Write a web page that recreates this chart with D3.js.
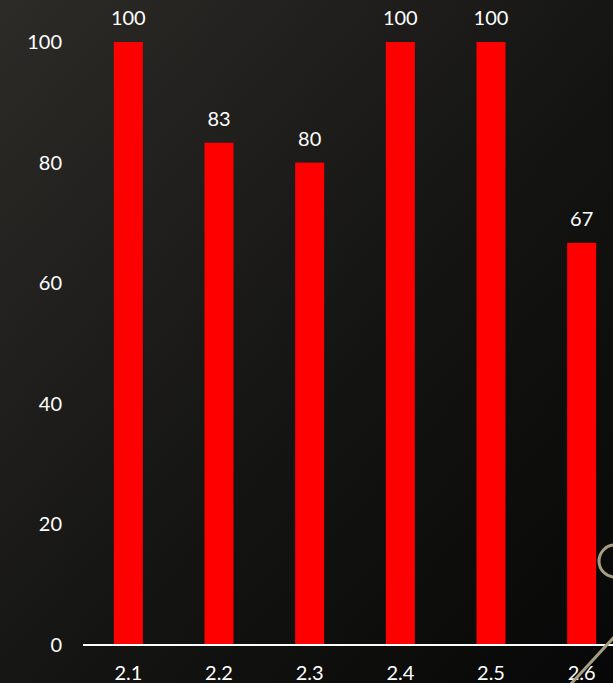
<!DOCTYPE html>
<html>
<head>
<meta charset="utf-8">
<script src="https://cdn.jsdelivr.net/npm/d3@7"></script>
<style>
html,body{margin:0;padding:0;background:#111;}
svg{display:block;}
text{font-family:"Century Gothic","Lato","DejaVu Sans",sans-serif;fill:#ffffff;font-weight:400;}
</style>
</head>
<body>
<svg id="chart" width="613" height="683"></svg>
<script>
const categories = ["2.1","2.2","2.3","2.4","2.5","2.6"];
const values = [100, 83.3, 80, 100, 100, 66.7];
const yTicks = [0, 20, 40, 60, 80, 100];

const W = 613, H = 683;
const FONT = '"Century Gothic","Lato","DejaVu Sans",sans-serif';
const svg = d3.select("#chart");

const defs = svg.append("defs");
const grad = defs.append("linearGradient").attr("id","bg")
  .attr("x1","0%").attr("y1","0%").attr("x2","100%").attr("y2","100%");
grad.append("stop").attr("offset","0%").attr("stop-color","#2d2b28");
grad.append("stop").attr("offset","55%").attr("stop-color","#141412");
grad.append("stop").attr("offset","100%").attr("stop-color","#070707");
svg.append("rect").attr("width",W).attr("height",H).attr("fill","url(#bg)");

const x = d3.scaleBand().domain(categories).range([83, 627])
  .paddingInner(0.68).paddingOuter(0.34);
const y = d3.scaleLinear().domain([0,100]).range([645, 42]);

// bars
svg.append("g").selectAll("rect").data(values).join("rect")
  .attr("x",(d,i)=>x(categories[i]))
  .attr("y",d=>y(d))
  .attr("width",x.bandwidth())
  .attr("height",d=>y(0)-y(d))
  .attr("fill","#ff0000");

// data labels
svg.append("g").selectAll("text").data(values).join("text")
  .attr("x",(d,i)=>x(categories[i])+x.bandwidth()/2)
  .attr("y",d=>y(d)-17)
  .attr("text-anchor","middle")
  .attr("font-size",20)
  .text(d=>Math.round(d));

// y axis labels
const yAxis = d3.axisLeft(y).tickValues(yTicks).tickSize(0).tickPadding(0);
const yg = svg.append("g").attr("transform","translate(62,0)").call(yAxis);
yg.select(".domain").remove();
yg.selectAll("text").attr("font-size",20).attr("fill","#fff")
  .style("font-family",FONT).style("font-weight",400);

// x axis
const xAxis = d3.axisBottom(x).tickSize(0).tickPadding(0);
const xg = svg.append("g").attr("transform","translate(0,645)").call(xAxis);
xg.select(".domain").remove();
xg.selectAll("text").attr("font-size",20).attr("fill","#fff").attr("dy","35")
  .style("font-family",FONT).style("font-weight",400);
svg.append("line").attr("x1",83).attr("x2",W).attr("y1",645).attr("y2",645)
  .attr("stroke","#ffffff").attr("stroke-width",2);

// decoration
svg.append("circle").attr("cx",615).attr("cy",561).attr("r",16)
  .attr("fill","none").attr("stroke","#a59e80").attr("stroke-width",3);
svg.append("line").attr("x1",569).attr("y1",686).attr("x2",616).attr("y2",635)
  .attr("stroke","#a59e80").attr("stroke-width",3);
</script>
</body>
</html>
